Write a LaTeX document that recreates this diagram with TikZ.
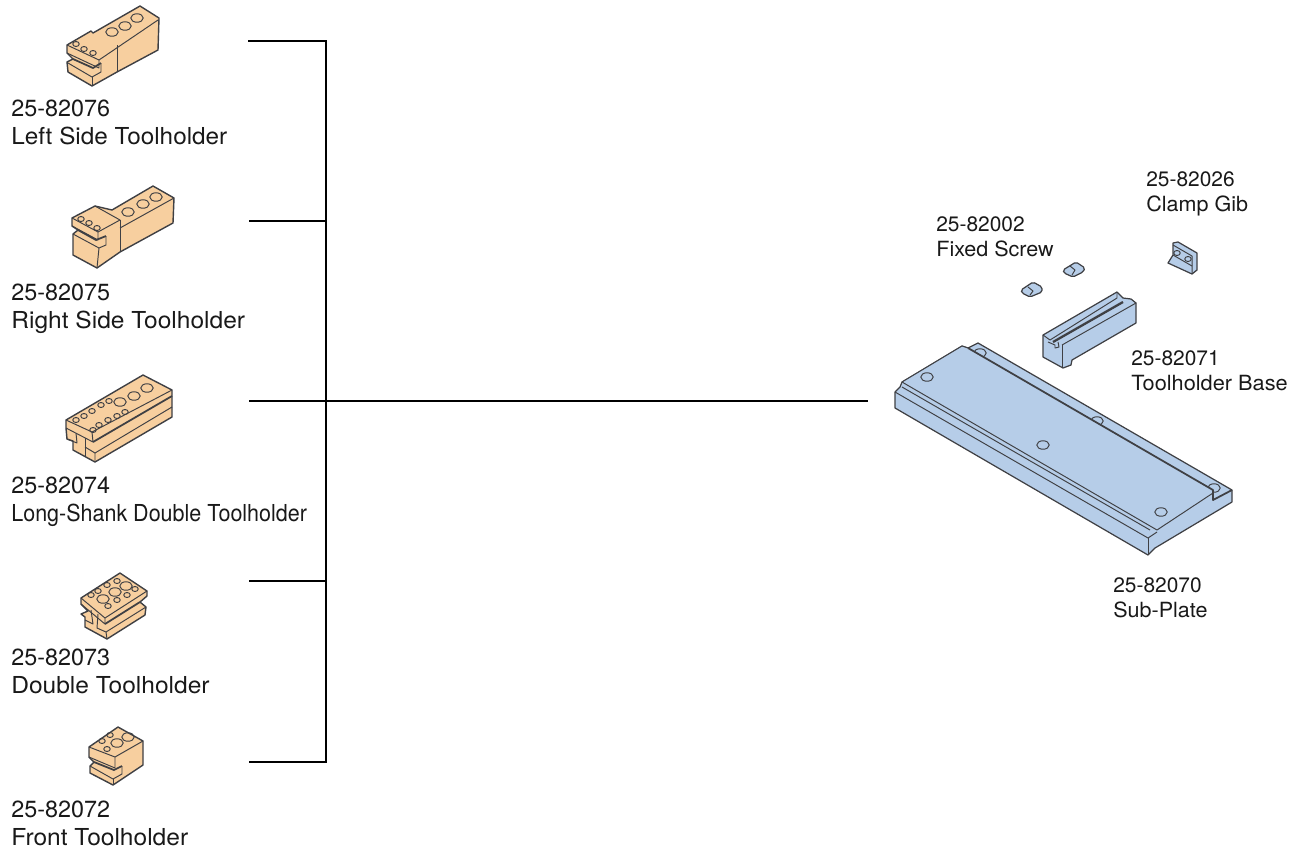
\documentclass[tikz,border=0pt]{standalone}
\usepackage{fontspec}
\setmainfont{TeX Gyre Heros}
\definecolor{partorange}{HTML}{F7CF9F}
\definecolor{partblue}{HTML}{B6CDE8}
\definecolor{partline}{HTML}{3F4044}
\tikzset{
  orangepart/.style={fill=partorange, draw=partline, line width=0.8pt, line join=round},
  bluepart/.style={fill=partblue, draw=partline, line width=0.7pt, line join=round},
  inner/.style={draw=partline, line width=0.55pt, line join=round},
  gap/.style={draw=partline, line width=1pt, line join=round},
  bighole/.style={x radius=0.125cm, y radius=0.085cm},
  smallhole/.style={x radius=0.065cm, y radius=0.05cm},
  leader/.style={draw=black, line width=0.6pt},
  leftlabel/.style={align=left, anchor=west, inner sep=0pt, font=\fontsize{13.3}{15.9}\selectfont, text=black!90},
  rightlabel/.style={align=left, anchor=west, inner sep=0pt, font=\fontsize{11.9}{14.3}\selectfont, text=black!90}
}
\begin{document}
\begin{tikzpicture}[x=0.02cm, y=-0.02cm]
    \useasboundingbox (0,0) rectangle (1301,853);

    % Left side toolholder
    \draw[orangepart] (67,45) -- (91,31) -- (93,33) -- (140,6) -- (159,18) -- (158,50) -- (117,72) -- (92,86) -- (68,72) -- (67,62) -- (73,59) -- (67,53) -- cycle;
    \draw[inner] (67,45) -- (99,60) -- (158,20);
    \draw[inner] (99,60) -- (99,68) -- (67,53);
    \draw[gap] (73,59) -- (93,68) -- (101,63);
    \draw[inner] (101,63) -- (101,72) -- (92,77) -- (68,63);
    \draw[inner] (92,77) -- (92,86);
    \draw[inner] (117,45) -- (117,71);
    \draw[inner] (112,32) circle[bighole] (125,26) circle[bighole] (137,18) circle[bighole];
    \draw[inner] (76,44) circle[smallhole] (84,49) circle[smallhole] (93,53) circle[smallhole];

    % Right side toolholder
    \draw[orangepart] (112,210) -- (153,186) -- (174,198) -- (173,223) -- (120,252) -- (97,268) -- (73,255) -- (73,234) -- (78,230) -- (72,226) -- (72,218) -- (95,206) -- cycle;
    \draw[inner] (72,218) -- (98,232) -- (120,220) -- (95,206);
    \draw[inner] (98,232) -- (98,240) -- (72,226);
    \draw[inner] (120,220) -- (120,252);
    \draw[inner] (120,228) -- (174,198);
    \draw[gap] (78,230) -- (96,240) -- (106,236);
    \draw[inner] (106,236) -- (106,245) -- (99,248) -- (73,234);
    \draw[inner] (99,248) -- (97,268);
    \draw[inner] (128,212) circle[bighole] (143,204) circle[bighole] (156,197) circle[bighole];
    \draw[inner] (81,219) circle[smallhole] (89,223) circle[smallhole] (97,228) circle[smallhole];

    % Long-shank double toolholder
    \draw[orangepart] (66,420) -- (143,375) -- (172,390) -- (172,417) -- (95,462) -- (73,450) -- (73,441) -- (67,439) -- (66,428) -- cycle;
    \draw[inner] (66,420) -- (92,432) -- (172,390);
    \draw[inner] (92,432) -- (93,442) -- (66,428);
    \draw[gap] (93,442) -- (172,396);
    \draw[inner] (172,407) -- (95,453) -- (95,462);
    \draw[inner] (95,453) -- (85,447);
    \draw[inner] (76,433) -- (77,443) -- (67,439);
    \draw[inner] (85,438) -- (85,457);
    \draw[inner] (120,402) circle[bighole] (134,396) circle[bighole] (147,388) circle[bighole];
    \draw[inner] (76,420) circle[smallhole] (84,416) circle[smallhole] (92,411) circle[smallhole] (101,405) circle[smallhole] (109,401) circle[smallhole];
    \draw[inner] (93,430) circle[smallhole] (99,425) circle[smallhole] (108,420) circle[smallhole] (117,416) circle[smallhole] (125,412) circle[smallhole];

    % Double toolholder
    \draw[orangepart] (81,598) -- (120,573) -- (147,591) -- (147,596) -- (140,602) -- (146,607) -- (145,615) -- (107,639) -- (85,627) -- (85,617) -- (81,614) -- (88,611) -- (81,604) -- cycle;
    \draw[inner] (81,598) -- (105,618) -- (147,591);
    \draw[inner] (105,618) -- (105,624) -- (81,604);
    \draw[gap] (105,624) -- (140,602);
    \draw[inner] (146,607) -- (106,632) -- (107,639);
    \draw[inner] (91,610) -- (93,624) -- (85,620);
    \draw[inner] (98,614) -- (97,628) -- (106,632);
    \draw[inner] (126,586) circle[bighole] (115,592) circle[bighole] (103,599) circle[bighole];
    \draw[inner] (117,581) circle[smallhole] (107,585) circle[smallhole] (98,591) circle[smallhole] (91,595) circle[smallhole];
    \draw[inner] (108,606) circle[smallhole] (117,600) circle[smallhole] (127,595) circle[smallhole] (135,589) circle[smallhole];

    % Front toolholder
    \draw[orangepart] (89,747) -- (118,727) -- (143,741) -- (143,765) -- (113,785) -- (90,773) -- (90,766) -- (94,762) -- (89,757) -- cycle;
    \draw[inner] (89,747) -- (115,757) -- (143,741);
    \draw[inner] (115,757) -- (115,768) -- (89,757);
    \draw[gap] (94,762) -- (114,770) -- (122,766);
    \draw[inner] (122,766) -- (122,774) -- (113,779) -- (90,766);
    \draw[inner] (113,779) -- (113,785);
    \draw[inner] (128,737) circle[bighole] (117,743) circle[bighole];
    \draw[inner] (107,749) circle[smallhole] (102,741) circle[smallhole] (110,735) circle[smallhole];

    % Sub-plate
    \draw[bluepart] (895,392) -- (900,387) -- (902,382) -- (962,346) -- (968,348) -- (978,343) -- (1232,490) -- (1232,502) -- (1155,548) -- (1148,555) -- (895,408) -- cycle;
    \draw[inner] (980,353) circle[bighole] (1097,421) circle[bighole] (1214,488) circle[bighole];
    \fill[partblue] (902,382) -- (962,346) -- (968,348) -- (1213,490) -- (1213,493) -- (1157,530) -- cycle;
    \draw[inner] (902,382) -- (1157,530) -- (1213,493);
    \draw[gap] (968,348) -- (1213,490) -- (1213,500) -- (1232,490);
    \draw[inner] (902,382) -- (962,346) -- (968,348);
    \draw[inner] (895,392) -- (1148,538) -- (1157,532);
    \draw[inner] (1148,538) -- (1148,555);
    \draw[inner] (902,387) -- (1150,530);
    \draw[inner] (927,377) circle[bighole] (1043,445) circle[bighole] (1161,512) circle[bighole];

    % Toolholder base
    \draw[bluepart] (1043,335) -- (1117,292) -- (1123,298) -- (1131,299) -- (1136,303) -- (1136,323) -- (1072,360) -- (1071,365) -- (1063,368) -- (1043,357) -- cycle;
    \draw[inner] (1043,335) -- (1050,340) -- (1117,298) -- (1117,292);
    \draw[inner, line width=1.3pt] (1053,342) -- (1123,302);
    \draw[inner] (1062,345) -- (1136,303);
    \draw[inner] (1062,345) -- (1062,368);
    \draw[inner] (1048,342) -- (1055,345) -- (1055,348) -- (1059,347) -- (1058,342);

    % Fixed screws
    \draw[bluepart, rounded corners=1pt] (1021,290) -- (1033,282) -- (1042,287) -- (1042,292) -- (1030,297) -- (1022,293) -- cycle;
    \draw[inner] (1028,287) -- (1033,291) -- (1030,295);
    \draw[bluepart, rounded corners=1pt] (1063,270) -- (1076,262) -- (1085,268) -- (1083,272) -- (1073,277) -- (1064,273) -- cycle;
    \draw[inner] (1070,266) -- (1075,270) -- (1072,275);

    % Clamp gib
    \draw[bluepart] (1173,243) -- (1178,242) -- (1197,253) -- (1197,270) -- (1192,274) -- (1168,263) -- (1173,255) -- cycle;
    \draw[inner] (1173,245) -- (1192,256) -- (1192,274);
    \draw[inner] (1173,255) -- (1192,266);
    \draw[inner] (1177,253) circle[smallhole] (1188,259) circle[smallhole];

    % Labels, left column
    \node[leftlabel] (lblA) at (11,122) {25-82076\\\scalebox{1.04}[1]{Left Side Toolholder}};
    \node[leftlabel] (lblB) at (11,309) {25-82075\\\scalebox{1.05}[1]{Right Side Toolholder}};
    \node[leftlabel] (lblC) at (11,502) {25-82074\\\scalebox{0.92}[1]{Long-Shank Double Toolholder}};
    \node[leftlabel] (lblD) at (11,671) {25-82073\\\scalebox{1.05}[1]{Double Toolholder}};
    \node[leftlabel] (lblE) at (11,823) {25-82072\\\scalebox{1.05}[1]{Front Toolholder}};

    % Labels, right side
    \node[rightlabel] (lblF) at (1146,194) {25-82026\\\scalebox{1.03}[1]{Clamp Gib}};
    \node[rightlabel] (lblG) at (936,237) {25-82002\\\scalebox{1.03}[1]{Fixed Screw}};
    \node[rightlabel] (lblH) at (1131,371) {25-82071\\\scalebox{1.04}[1]{Toolholder Base}};
    \node[rightlabel] (lblI) at (1113,598) {25-82070\\\scalebox{1.03}[1]{Sub-Plate}};

    % Leader ends
    \coordinate (startA) at (248,41);
    \coordinate (startB) at (249,221);
    \coordinate (startC) at (249,401);
    \coordinate (startD) at (249,581);
    \coordinate (startE) at (249,762);
    \coordinate (barA) at (326,41);
    \coordinate (barB) at (326,221);
    \coordinate (barC) at (326,401);
    \coordinate (barD) at (326,581);
    \coordinate (barE) at (326,762);
    \coordinate (endC) at (868,401);

    % Leader lines
    \draw[leader] (startA) -- (barA) -- (barE) -- (startE);
    \draw[leader] (startB) -- (barB);
    \draw[leader] (startC) -- (endC);
    \draw[leader] (startD) -- (barD);
\end{tikzpicture}
\end{document}
